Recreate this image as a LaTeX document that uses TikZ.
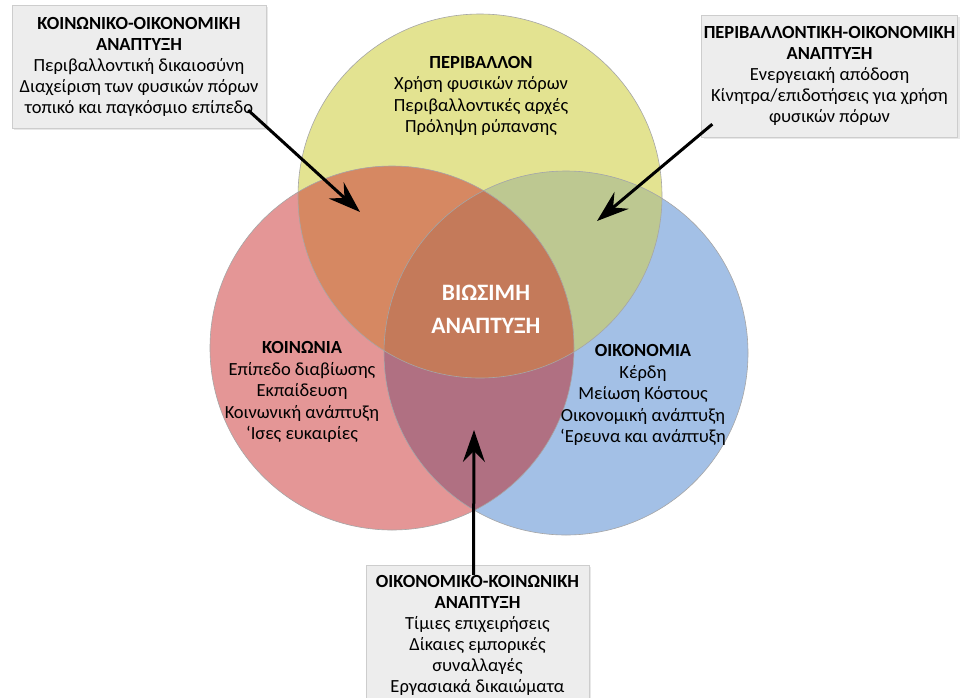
\documentclass[tikz,border=0pt]{standalone}
\usepackage{fontspec}
\setmainfont{Carlito}
\usetikzlibrary{arrows.meta, shadows}

\definecolor{envyellow}{RGB}{227,227,145}
\definecolor{socred}{RGB}{228,150,150}
\definecolor{ecoblue}{RGB}{163,192,230}
\definecolor{envsoc}{RGB}{214,136,98}
\definecolor{enveco}{RGB}{189,200,145}
\definecolor{soceco}{RGB}{176,112,130}
\definecolor{coremix}{RGB}{196,122,90}
\definecolor{boxgray}{RGB}{237,237,237}
\definecolor{boxline}{RGB}{205,205,205}

\tikzset{
  infobox/.style={draw=boxline, fill=boxgray, align=center, inner sep=0pt,
    font=\fontsize{18.5}{21}\selectfont,
    drop shadow={opacity=0.18, shadow xshift=2pt, shadow yshift=-2pt}},
  lbl/.style={align=center, font=\fontsize{18.5}{21.5}\selectfont},
  corelbl/.style={align=center, font=\fontsize{23.5}{33}\selectfont\bfseries},
  bigarrow/.style={line width=3pt, -{Stealth[length=32pt, width=22pt, inset=11pt]}},
  ring/.style={draw=black!35, line width=0.6pt}
}

\begin{document}
\begin{tikzpicture}[x=1pt, y=-1pt]
\useasboundingbox (0,0) rectangle (962,697);
\fill[white] (0,0) rectangle (962,697);

\coordinate (cEnv) at (480,196);
\coordinate (cSoc) at (392,348);
\coordinate (cEco) at (566,353);

% the three circles
\fill[envyellow] (cEnv) circle (182pt);
\fill[socred]    (cSoc) circle (182pt);
\fill[ecoblue]   (cEco) circle (182pt);

% overlaps
\begin{scope}
  \clip (cEnv) circle (182pt);
  \fill[envsoc] (cSoc) circle (182pt);
  \fill[enveco] (cEco) circle (182pt);
\end{scope}
\begin{scope}
  \clip (cSoc) circle (182pt);
  \fill[soceco] (cEco) circle (182pt);
  \clip (cEco) circle (182pt);
  \fill[coremix] (cEnv) circle (182pt);
\end{scope}

\node[circle, ring, minimum size=364pt] (env) at (cEnv) {};
\node[circle, ring, minimum size=364pt] (soc) at (cSoc) {};
\node[circle, ring, minimum size=364pt] (eco) at (cEco) {};

% circle texts
\node[lbl] (envtxt) at (481,96) {\textbf{ΠΕΡΙΒΑΛΛΟΝ}\\Χρήση φυσικών πόρων\\Περιβαλλοντικές αρχές\\Πρόληψη ρύπανσης};
\node[lbl] (soctxt) at (302,392) {\textbf{ΚΟΙΝΩΝΙΑ}\\Επίπεδο διαβίωσης\\Εκπαίδευση\\Κοινωνική ανάπτυξη\\‘Ισες ευκαιρίες};
\node[lbl] (ecotxt) at (643,395) {\textbf{ΟΙΚΟΝΟΜΙΑ}\\Κέρδη\\Μείωση Κόστους\\Οικονομική ανάπτυξη\\‘Ερευνα και ανάπτυξη};

\node[corelbl, text=white] (core) at (486,309) {ΒΙΩΣΙΜΗ\\ΑΝΑΠΤΥΞΗ};

% boxes
\node[infobox, minimum width=254pt, minimum height=123pt] (boxSE) at (139,66.5)
  {\textbf{ΚΟΙΝΩΝΙΚΟ-ΟΙΚΟΝΟΜΙΚΗ}\\\textbf{ΑΝΑΠΤΥΞΗ}\\Περιβαλλοντική δικαιοσύνη\\Διαχείριση των φυσικών πόρων\\τοπικό και παγκόσμιο επίπεδο};
\node[infobox, minimum width=256pt, minimum height=122pt] (boxEE) at (829.5,76)
  {\textbf{ΠΕΡΙΒΑΛΛΟΝΤΙΚΗ-ΟΙΚΟΝΟΜΙΚΗ}\\\textbf{ΑΝΑΠΤΥΞΗ}\\Ενεργειακή απόδοση\\Κίνητρα/επιδοτήσεις για χρήση\\φυσικών πόρων};
\node[infobox, minimum width=223pt, minimum height=140pt] (boxES) at (477.5,635)
  {\textbf{ΟΙΚΟΝΟΜΙΚΟ-ΚΟΙΝΩΝΙΚΗ}\\\textbf{ΑΝΑΠΤΥΞΗ}\\Τίμιες επιχειρήσεις\\Δίκαιες εμπορικές\\συναλλαγές\\Εργασιακά δικαιώματα};

% arrows
\coordinate (tipSE) at (360,212);
\coordinate (tipEE) at (597,221);
\coordinate (tipES) at (474,430);
\draw[bigarrow] ([xshift=-18pt, yshift=18pt]boxSE.south east) -- (tipSE);
\draw[bigarrow] ([xshift=11pt, yshift=13pt]boxEE.south west) -- (tipEE);
\draw[bigarrow] ([xshift=-4pt, yshift=-10pt]boxES.north) -- (tipES);
\end{tikzpicture}
\end{document}
